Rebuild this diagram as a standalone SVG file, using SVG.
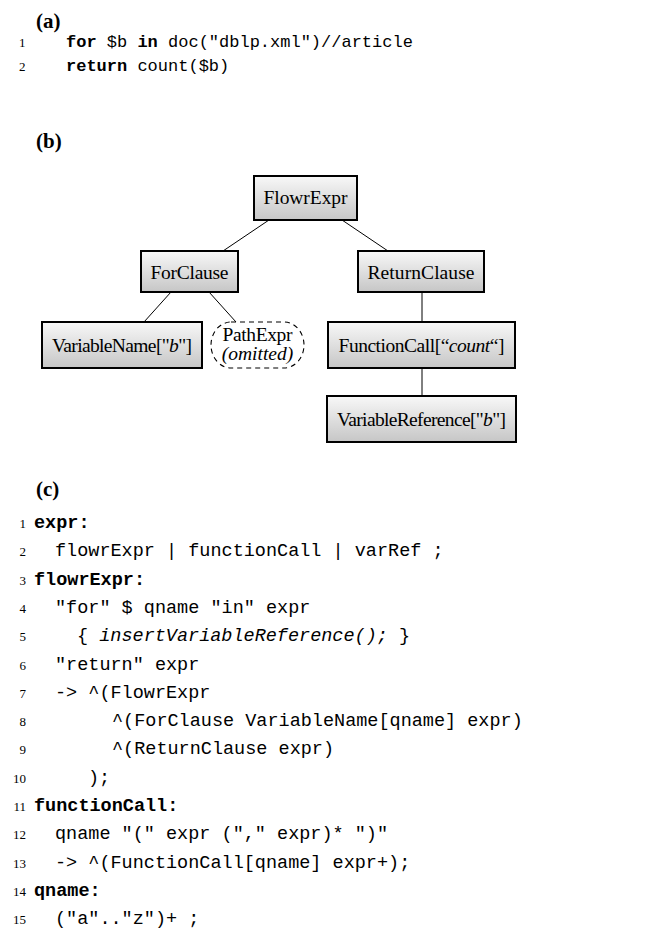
<svg xmlns="http://www.w3.org/2000/svg" width="665" height="933" viewBox="0 0 665 933">
<defs>
<linearGradient id="g" x1="0" y1="0" x2="0" y2="1">
<stop offset="0" stop-color="#f8f8f8"/>
<stop offset="1" stop-color="#c6c6c6"/>
</linearGradient>
<style>
.lab{font-family:"Liberation Serif",serif;font-weight:bold;font-size:21px;fill:#000}
.num{font-family:"Liberation Serif",serif;font-size:13px;fill:#000}
.codea{font-family:"Liberation Mono",monospace;font-size:17px;fill:#000;white-space:pre}
.code{font-family:"Liberation Mono",monospace;font-size:18.5px;fill:#000;white-space:pre}
.b{font-weight:bold}
.i{font-style:italic}
.box{fill:url(#g);stroke:#000;stroke-width:2}
.node{font-family:"Liberation Serif",serif;font-size:19.5px;fill:#000;text-anchor:middle}
.edge{stroke:#000;stroke-width:1;fill:none}
</style>
</defs>
<rect width="665" height="933" fill="#fff"/>

<!-- (a) -->
<text class="lab" x="36" y="28">(a)</text>
<text class="num" x="19" y="47">1</text>
<text class="codea" x="66" y="47" xml:space="preserve"><tspan class="b">for</tspan> $b <tspan class="b">in</tspan> doc("dblp.xml")//article</text>
<text class="num" x="19" y="71">2</text>
<text class="codea" x="66" y="71" xml:space="preserve"><tspan class="b">return</tspan> count($b)</text>

<!-- (b) -->
<text class="lab" x="36" y="148">(b)</text>
<g id="connectors">
<line class="edge" x1="269" y1="220" x2="223" y2="251"/>
<line class="edge" x1="342" y1="220" x2="388" y2="251"/>
<line class="edge" x1="171" y1="292" x2="144" y2="322"/>
<line class="edge" x1="209" y1="292" x2="236" y2="322"/>
<line class="edge" x1="422" y1="292" x2="422" y2="322"/>
<line class="edge" x1="422" y1="368" x2="422" y2="396"/>
</g>
<g id="FlowrExpr">
<rect class="box" x="254" y="176" width="103" height="44"/>
<text class="node" x="305.5" y="203.5" textLength="84">FlowrExpr</text>
</g>
<g id="ForClause">
<rect class="box" x="141" y="251" width="97" height="41"/>
<text class="node" x="189.5" y="278.5" textLength="78">ForClause</text>
</g>
<g id="ReturnClause">
<rect class="box" x="358" y="251" width="126" height="41"/>
<text class="node" x="421" y="278.5" textLength="107">ReturnClause</text>
</g>
<g id="VariableName">
<rect class="box" x="42" y="322" width="160" height="46"/>
<text class="node" x="122" y="351.5" textLength="140">VariableName["<tspan class="i">b</tspan>"]</text>
</g>
<g id="PathExpr">
<rect x="211" y="322" width="93" height="46" rx="20" ry="23" fill="none" stroke="#000" stroke-width="1.1" stroke-dasharray="5 4"/>
<text class="node" x="257.5" y="341" font-size="17" textLength="70">PathExpr</text>
<text class="node i" x="257.5" y="360" font-size="11">(omitted)</text>
</g>
<g id="FunctionCall">
<rect class="box" x="328" y="322" width="187" height="46"/>
<text class="node" x="421.5" y="351.5" textLength="166">FunctionCall[“<tspan class="i">count</tspan>“]</text>
</g>
<g id="VariableReference">
<rect class="box" x="327" y="396" width="189" height="46"/>
<text class="node" x="421.5" y="425.5" textLength="169">VariableReference["<tspan class="i">b</tspan>"]</text>
</g>

<!-- (c) -->
<text class="lab" x="36" y="496">(c)</text>
<g text-anchor="end">
<text class="num" x="26" y="528">1</text>
<text class="num" x="26" y="556.3">2</text>
<text class="num" x="26" y="584.6">3</text>
<text class="num" x="26" y="612.9">4</text>
<text class="num" x="26" y="641.2">5</text>
<text class="num" x="26" y="669.5">6</text>
<text class="num" x="26" y="697.8">7</text>
<text class="num" x="26" y="726.1">8</text>
<text class="num" x="26" y="754.4">9</text>
<text class="num" x="26" y="782.7">10</text>
<text class="num" x="26" y="811">11</text>
<text class="num" x="26" y="839.3">12</text>
<text class="num" x="26" y="867.6">13</text>
<text class="num" x="26" y="895.9">14</text>
<text class="num" x="26" y="924.2">15</text>
</g>
<text class="code b" x="34" y="528">expr:</text>
<text class="code" x="55" y="556.3" xml:space="preserve">flowrExpr | functionCall | varRef ;</text>
<text class="code b" x="34" y="584.6">flowrExpr:</text>
<text class="code" x="55" y="612.9" xml:space="preserve">"for" $ qname "in" expr</text>
<text class="code" x="77" y="641.2" xml:space="preserve">{ <tspan class="i">insertVariableReference();</tspan> }</text>
<text class="code" x="55" y="669.5" xml:space="preserve">"return" expr</text>
<text class="code" x="55" y="697.8" xml:space="preserve">-&gt; ^(FlowrExpr</text>
<text class="code" x="112" y="726.1" xml:space="preserve">^(ForClause VariableName[qname] expr)</text>
<text class="code" x="112" y="754.4" xml:space="preserve">^(ReturnClause expr)</text>
<text class="code" x="88" y="782.7" xml:space="preserve">);</text>
<text class="code b" x="34" y="811">functionCall:</text>
<text class="code" x="55" y="839.3" xml:space="preserve">qname "(" expr ("," expr)* ")"</text>
<text class="code" x="55" y="867.6" xml:space="preserve">-&gt; ^(FunctionCall[qname] expr+);</text>
<text class="code b" x="34" y="895.9">qname:</text>
<text class="code" x="55" y="924.2" xml:space="preserve">("a".."z")+ ;</text>
</svg>
